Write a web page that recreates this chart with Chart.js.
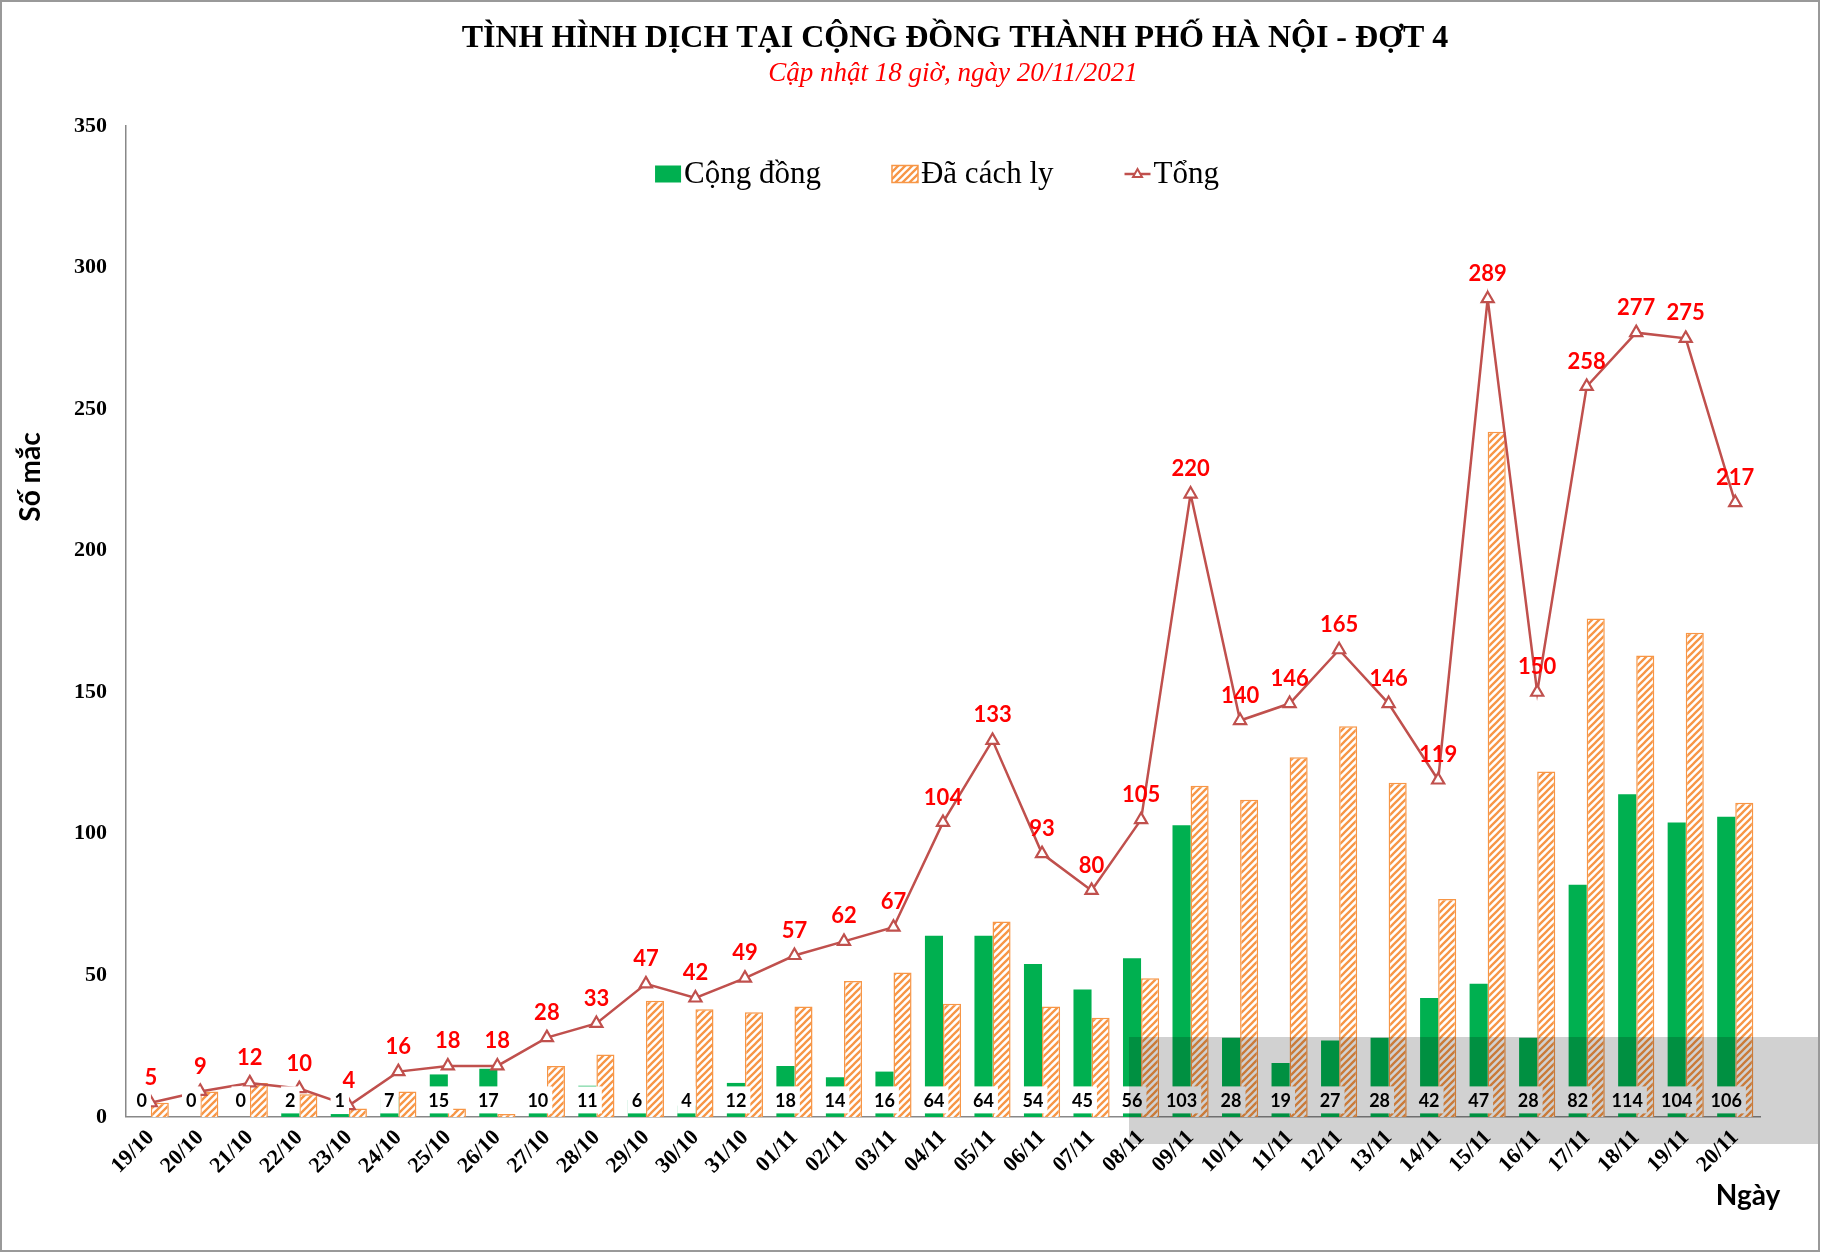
<!DOCTYPE html>
<html>
<head>
<meta charset="utf-8">
<title>Tình hình dịch tại cộng đồng Hà Nội - đợt 4</title>
<script src="https://cdn.jsdelivr.net/npm/chart.js@4.4.0/dist/chart.umd.min.js"></script>
<style>
  html, body { margin: 0; padding: 0; background: #fff; }
  #wrap { width: 1821px; height: 1252px; position: relative; }
</style>
</head>
<body>
<div id="wrap"><canvas id="covidChart"></canvas></div>
<script>
// Ngày (trục X)
const dates = ['19/10', '20/10', '21/10', '22/10', '23/10', '24/10', '25/10', '26/10', '27/10', '28/10',
  '29/10', '30/10', '31/10', '01/11', '02/11', '03/11', '04/11', '05/11', '06/11', '07/11',
  '08/11', '09/11', '10/11', '11/11', '12/11', '13/11', '14/11', '15/11', '16/11', '17/11',
  '18/11', '19/11', '20/11'];

// Ca cộng đồng
const congDong = [0, 0, 0, 2, 1, 7, 15, 17, 10, 11, 6, 4, 12, 18, 14, 16, 64, 64, 54, 45,
  56, 103, 28, 19, 27, 28, 42, 47, 28, 82, 114, 104, 106];

// Ca đã cách ly
const daCachLy = [5, 9, 12, 8, 3, 9, 3, 1, 18, 22, 41, 38, 37, 39, 48, 51, 40, 69, 39, 35,
  49, 117, 112, 127, 138, 118, 77, 242, 122, 176, 163, 171, 111];

// Tổng
const tong = [5, 9, 12, 10, 4, 16, 18, 18, 28, 33, 47, 42, 49, 57, 62, 67, 104, 133, 93, 80,
  105, 220, 140, 146, 165, 146, 119, 289, 150, 258, 277, 275, 217];

const yMax = 350;
const yStep = 50;

const titleText = 'TÌNH HÌNH DỊCH TẠI CỘNG ĐỒNG THÀNH PHỐ HÀ NỘI - ĐỢT 4';
const subtitleText = 'Cập nhật 18 giờ, ngày 20/11/2021';
const xTitle = 'Ngày';
const yTitle = 'Số mắc';

const GREEN = '#00B050';
const ORANGE = '#F79646';
const LINE_RED = '#C0504D';

// Hatched fill for "Đã cách ly"
function makeHatch(color) {
  const size = 7;
  const c = document.createElement('canvas');
  c.width = size;
  c.height = size;
  const g = c.getContext('2d');
  g.fillStyle = '#fff';
  g.fillRect(0, 0, size, size);
  g.strokeStyle = color;
  g.lineWidth = 2.3;
  g.beginPath();
  g.moveTo(0, size); g.lineTo(size, 0);
  g.moveTo(-1, 1); g.lineTo(1, -1);
  g.moveTo(size - 1, size + 1); g.lineTo(size + 1, size - 1);
  g.stroke();
  return g.createPattern(c, 'repeat');
}

// Background, frame and titles
const framePlugin = {
  id: 'frame',
  beforeDraw(chart) {
    const ctx = chart.ctx;
    ctx.save();
    ctx.fillStyle = '#fff';
    ctx.fillRect(0, 0, chart.width, chart.height);
    ctx.strokeStyle = '#999';
    ctx.lineWidth = 2;
    ctx.strokeRect(1, 1, chart.width - 3, chart.height - 2);

    ctx.textAlign = 'center';
    ctx.textBaseline = 'middle';
    ctx.fillStyle = '#000';
    ctx.font = 'bold 32px "Liberation Serif"';
    ctx.fillText(titleText, 955, 39);
    ctx.fillStyle = '#FF0000';
    ctx.font = 'italic 27px "Liberation Serif"';
    ctx.fillText(subtitleText, 953, 74);

    ctx.fillStyle = '#000';
    ctx.font = 'bold 28px Lato';
    ctx.fillText(xTitle, 1748, 1196);

    // axis title, placed high like the original
    ctx.translate(31, 477);
    ctx.rotate(-Math.PI / 2);
    ctx.fillText(yTitle, 0, 0);
    ctx.restore();
  }
};

// Value labels
const labelPlugin = {
  id: 'valueLabels',
  afterDatasetsDraw(chart) {
    const ctx = chart.ctx;
    const base = chart.scales.y.getPixelForValue(0);
    ctx.save();
    ctx.textAlign = 'center';
    ctx.textBaseline = 'middle';

    // Cộng đồng - at base with white box
    ctx.font = 'bold 18px Lato';
    chart.getDatasetMeta(0).data.forEach((bar, i) => {
      const txt = String(congDong[i]);
      const w = ctx.measureText(txt).width + 8;
      const cy = base - 17;
      ctx.fillStyle = '#fff';
      ctx.fillRect(bar.x - w / 2, cy - 13.5, w, 27);
      ctx.fillStyle = '#000';
      ctx.fillText(txt, bar.x, cy + 1);
    });

    // Tổng - red above points
    ctx.font = 'bold 22px Lato';
    ctx.fillStyle = '#FF0000';
    chart.getDatasetMeta(2).data.forEach((pt, i) => {
      ctx.fillText(String(tong[i]), pt.x, pt.y - 25);
    });
    ctx.restore();
  }
};

// Legend inside the plot + watermark band
const legendPlugin = {
  id: 'innerLegend',
  afterDraw(chart) {
    const ctx = chart.ctx;
    const area = chart.chartArea;
    const keyW = 26, keyH = 17, gapKey = 3, gapItem = 71;
    ctx.save();
    ctx.font = '31px "Liberation Serif"';
    const items = chart.data.datasets.map(ds => ({ ds, w: ctx.measureText(ds.label).width }));
    let total = 0;
    items.forEach(it => { total += keyW + gapKey + it.w; });
    total += gapItem * (items.length - 1);
    let x = (area.left + area.right) / 2 - 6 - total / 2;
    const y = area.top + 48;
    ctx.textBaseline = 'middle';
    ctx.textAlign = 'left';
    items.forEach(it => {
      const ds = it.ds;
      if (ds.type === 'line') {
        ctx.strokeStyle = ds.borderColor;
        ctx.lineWidth = 2.5;
        ctx.beginPath();
        ctx.moveTo(x, y); ctx.lineTo(x + keyW, y);
        ctx.stroke();
        ctx.fillStyle = '#fff';
        ctx.lineWidth = 2;
        ctx.beginPath();
        ctx.moveTo(x + keyW / 2, y - 5);
        ctx.lineTo(x + keyW / 2 + 4.5, y + 3);
        ctx.lineTo(x + keyW / 2 - 4.5, y + 3);
        ctx.closePath();
        ctx.fill();
        ctx.stroke();
      } else {
        ctx.fillStyle = ds.backgroundColor;
        ctx.fillRect(x, y - keyH / 2, keyW, keyH);
        if (ds.borderWidth) {
          ctx.strokeStyle = ds.borderColor;
          ctx.lineWidth = 1.5;
          ctx.strokeRect(x, y - keyH / 2, keyW, keyH);
        }
      }
      ctx.fillStyle = '#000';
      ctx.fillText(ds.label, x + keyW + gapKey, y + 1);
      x += keyW + gapKey + it.w + gapItem;
    });

    // site watermark band
    ctx.fillStyle = 'rgba(0,0,0,0.18)';
    ctx.fillRect(1129, 1037, chart.width - 1132, 107);
    ctx.restore();
  }
};

function drawChart() {
  const ctx = document.getElementById('covidChart').getContext('2d');
  new Chart(ctx, {
    type: 'bar',
    data: {
      labels: dates,
      datasets: [
        {
          label: 'Cộng đồng',
          data: congDong,
          backgroundColor: GREEN,
          borderWidth: 0,
          order: 1
        },
        {
          label: 'Đã cách ly',
          data: daCachLy,
          backgroundColor: makeHatch(ORANGE),
          borderColor: ORANGE,
          borderWidth: 1.5,
          order: 1
        },
        {
          type: 'line',
          label: 'Tổng',
          data: tong,
          borderColor: LINE_RED,
          borderWidth: 2.5,
          tension: 0,
          pointStyle: 'triangle',
          pointRadius: 7,
          pointBorderWidth: 2.2,
          pointBackgroundColor: '#fff',
          pointBorderColor: LINE_RED,
          order: 0
        }
      ]
    },
    options: {
      responsive: true,
      maintainAspectRatio: false,
      animation: false,
      devicePixelRatio: 1,
      categoryPercentage: 0.73,
      barPercentage: 1.0,
      layout: { padding: { left: 55, right: 61, top: 126, bottom: 65 } },
      plugins: {
        legend: { display: false },
        tooltip: { enabled: false },
        title: { display: false }
      },
      scales: {
        x: {
          grid: { display: false, drawTicks: false },
          border: { display: true, color: '#888', width: 1.5 },
          ticks: {
            color: '#000',
            font: { family: '"Liberation Serif"', size: 22, weight: 'bold' },
            minRotation: 45,
            maxRotation: 45,
            padding: 8,
            autoSkip: false
          }
        },
        y: {
          min: 0,
          max: yMax,
          grid: { display: false, drawTicks: false },
          border: { display: true, color: '#888', width: 1.5 },
          ticks: {
            stepSize: yStep,
            color: '#000',
            font: { family: '"Liberation Serif"', size: 22, weight: 'bold' },
            padding: 19
          }
        }
      }
    },
    plugins: [framePlugin, labelPlugin, legendPlugin]
  });
}

Promise.all([
  document.fonts.load('bold 17px Lato'),
  document.fonts.load('bold 31px "Liberation Serif"'),
  document.fonts.load('italic 22px "Liberation Serif"'),
  document.fonts.load('30px "Liberation Serif"')
]).then(drawChart, drawChart);
</script>
</body>
</html>
